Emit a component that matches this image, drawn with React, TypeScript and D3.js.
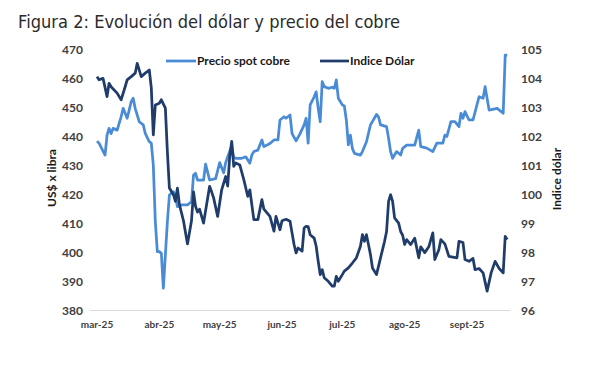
import React from 'react';
import * as d3 from 'd3';

const copperDates = [
  '2025-03-01', '2025-03-02', '2025-03-05', '2025-03-06', '2025-03-07', '2025-03-08', '2025-03-09', '2025-03-11',
  '2025-03-13', '2025-03-14', '2025-03-15', '2025-03-16', '2025-03-17', '2025-03-18', '2025-03-19', '2025-03-20',
  '2025-03-22', '2025-03-24', '2025-03-25', '2025-03-27', '2025-03-28', '2025-03-29', '2025-03-30', '2025-03-31',
  '2025-04-01', '2025-04-02', '2025-04-03', '2025-04-05', '2025-04-06', '2025-04-08', '2025-04-09', '2025-04-10',
  '2025-04-12', '2025-04-15', '2025-04-17', '2025-04-18', '2025-04-19', '2025-04-20', '2025-04-23', '2025-04-24',
  '2025-04-26', '2025-04-29', '2025-05-01', '2025-05-03', '2025-05-04', '2025-05-05', '2025-05-07', '2025-05-08',
  '2025-05-09', '2025-05-12', '2025-05-14', '2025-05-16', '2025-05-17', '2025-05-18', '2025-05-20', '2025-05-22',
  '2025-05-23', '2025-05-26', '2025-05-28', '2025-05-30', '2025-05-31', '2025-06-02', '2025-06-03', '2025-06-05',
  '2025-06-06', '2025-06-08', '2025-06-10', '2025-06-12', '2025-06-13', '2025-06-14', '2025-06-15', '2025-06-17',
  '2025-06-18', '2025-06-19', '2025-06-20', '2025-06-21', '2025-06-22', '2025-06-24', '2025-06-26', '2025-06-27',
  '2025-06-28', '2025-06-29', '2025-07-01', '2025-07-02', '2025-07-03', '2025-07-04', '2025-07-05', '2025-07-06',
  '2025-07-07', '2025-07-10', '2025-07-11', '2025-07-13', '2025-07-15', '2025-07-18', '2025-07-19', '2025-07-20',
  '2025-07-23', '2025-07-24', '2025-07-25', '2025-07-26', '2025-07-28', '2025-07-30', '2025-07-31', '2025-08-02',
  '2025-08-06', '2025-08-08', '2025-08-09', '2025-08-12', '2025-08-15', '2025-08-17', '2025-08-20', '2025-08-21',
  '2025-08-22', '2025-08-24', '2025-08-26', '2025-08-28', '2025-08-29', '2025-08-30', '2025-08-31', '2025-09-02',
  '2025-09-04', '2025-09-07', '2025-09-09', '2025-09-10', '2025-09-12', '2025-09-16', '2025-09-19', '2025-09-20',
  '2025-09-21',
];
const copperValues = [
  438.4, 437.7, 433.6, 440.5, 442.8, 441.0, 442.8, 442.2,
  446.8, 449.7, 448.0, 446.3, 449.1, 452.0, 453.2, 449.7,
  445.1, 444.0, 441.1, 438.2, 437.7, 430.2, 410.6, 400.3,
  400.3, 399.7, 387.7, 410.6, 419.8, 421.0, 419.8, 415.8,
  416.4, 416.4, 417.5, 426.7, 427.3, 425.0, 425.0, 430.5,
  425.0, 425.5, 431.0, 427.5, 431.0, 433.0, 436.7, 432.8,
  432.5, 432.5, 433.0, 430.8, 433.6, 434.8, 435.3, 438.8,
  436.5, 437.6, 438.8, 438.8, 445.7, 446.8, 446.3, 447.4,
  441.0, 438.5, 441.0, 444.0, 446.3, 437.7, 450.9, 453.7,
  455.4, 449.7, 445.1, 458.9, 457.2, 456.6, 457.0, 456.6,
  459.5, 453.2, 450.9, 450.5, 445.7, 437.1, 440.5, 435.9,
  434.2, 433.6, 434.8, 438.2, 444.0, 447.6, 446.8, 444.0,
  443.4, 439.4, 434.8, 432.5, 434.8, 433.6, 435.9, 437.0,
  437.0, 442.2, 436.5, 436.0, 434.8, 437.7, 437.7, 440.5,
  440.0, 445.1, 445.1, 443.4, 448.0, 446.3, 448.6, 445.7,
  445.7, 453.7, 453.2, 457.2, 449.1, 449.7, 448.0, 468.1,
  468.1,
];

const dollarDates = [
  '2025-03-01', '2025-03-02', '2025-03-04', '2025-03-06', '2025-03-07', '2025-03-08', '2025-03-11', '2025-03-13',
  '2025-03-15', '2025-03-16', '2025-03-18', '2025-03-20', '2025-03-21', '2025-03-23', '2025-03-25', '2025-03-27',
  '2025-03-28', '2025-03-29', '2025-03-30', '2025-04-01', '2025-04-02', '2025-04-04', '2025-04-05', '2025-04-06',
  '2025-04-08', '2025-04-09', '2025-04-10', '2025-04-11', '2025-04-13', '2025-04-15', '2025-04-17', '2025-04-18',
  '2025-04-19', '2025-04-20', '2025-04-21', '2025-04-23', '2025-04-26', '2025-04-27', '2025-04-28', '2025-04-30',
  '2025-05-02', '2025-05-04', '2025-05-05', '2025-05-06', '2025-05-07', '2025-05-08', '2025-05-09', '2025-05-11',
  '2025-05-13', '2025-05-15', '2025-05-16', '2025-05-18', '2025-05-20', '2025-05-22', '2025-05-23', '2025-05-26',
  '2025-05-28', '2025-05-29', '2025-05-31', '2025-06-01', '2025-06-03', '2025-06-05', '2025-06-06', '2025-06-07',
  '2025-06-08', '2025-06-09', '2025-06-11', '2025-06-12', '2025-06-13', '2025-06-14', '2025-06-15', '2025-06-17',
  '2025-06-18', '2025-06-19', '2025-06-20', '2025-06-21', '2025-06-22', '2025-06-24', '2025-06-26', '2025-06-27',
  '2025-06-28', '2025-06-29', '2025-07-01', '2025-07-02', '2025-07-04', '2025-07-06', '2025-07-08', '2025-07-10',
  '2025-07-11', '2025-07-12', '2025-07-13', '2025-07-14', '2025-07-15', '2025-07-16', '2025-07-18', '2025-07-20',
  '2025-07-22', '2025-07-23', '2025-07-24', '2025-07-25', '2025-07-26', '2025-07-27', '2025-07-29', '2025-07-30',
  '2025-07-31', '2025-08-01', '2025-08-02', '2025-08-04', '2025-08-06', '2025-08-08', '2025-08-09', '2025-08-11',
  '2025-08-13', '2025-08-15', '2025-08-16', '2025-08-18', '2025-08-19', '2025-08-21', '2025-08-23', '2025-08-27',
  '2025-08-28', '2025-08-30', '2025-08-31', '2025-09-02', '2025-09-04', '2025-09-05', '2025-09-07', '2025-09-09',
  '2025-09-11', '2025-09-13', '2025-09-15', '2025-09-17', '2025-09-19', '2025-09-20', '2025-09-21',
];
const dollarValues = [
  104.08, 103.97, 104.02, 103.39, 103.85, 103.73, 103.51, 103.28,
  103.73, 103.97, 104.08, 104.2, 104.54, 104.08, 104.2, 104.31,
  103.7, 102.07, 103.1, 103.16, 103.28, 102.99, 101.49, 100.23,
  100.0, 99.77, 100.23, 99.66, 99.1, 98.3, 99.1, 100.1,
  99.6, 99.4, 99.5, 99.02, 100.29, 100.1, 99.89, 99.25,
  100.17, 100.63, 100.3, 101.32, 101.84, 100.98, 101.1, 101.03,
  100.52, 99.94, 100.17, 99.14, 99.14, 99.83, 99.5, 99.25,
  98.74, 99.25, 98.79, 99.1, 99.15, 99.08, 98.68, 98.28,
  97.99, 98.16, 98.05, 98.85, 98.91, 98.9, 98.62, 98.5,
  98.22, 97.7, 97.24, 97.41, 97.13, 97.01, 96.84, 96.84,
  97.18, 97.01, 97.24, 97.36, 97.47, 97.64, 97.82, 98.22,
  98.62, 98.39, 98.62, 98.28, 97.93, 97.47, 97.24, 97.82,
  98.39, 98.73, 99.77, 100.0, 99.77, 99.2, 99.02, 98.73,
  98.6, 98.28, 98.45, 98.28, 98.5, 97.82, 98.2, 98.0,
  98.2, 98.68, 97.76, 98.1, 98.45, 98.3, 97.87, 97.82,
  98.39, 98.35, 97.76, 97.7, 97.8, 97.41, 97.45, 97.3,
  96.67, 97.3, 97.7, 97.45, 97.3, 98.56, 98.45,
];

const monthTicks = ['2025-03-01', '2025-04-01', '2025-05-01', '2025-06-01', '2025-07-01', '2025-08-01', '2025-09-01'];
const monthLabels = ['mar-25', 'abr-25', 'may-25', 'jun-25', 'jul-25', 'ago-25', 'sept-25'];
const leftTicks = [380, 390, 400, 410, 420, 430, 440, 450, 460, 470];
const rightTicks = [96, 97, 98, 99, 100, 101, 102, 103, 104, 105];

const copperColor = '#4a8bd6';
const dollarColor = '#1f3c6b';
const labelFont = 'Lato, "Open Sans", sans-serif';

export default function App() {
  const width = 600;
  const height = 369;
  const plot = { left: 90, right: 510, top: 49.5, bottom: 310.5 };

  const parse = d3.timeParse('%Y-%m-%d');
  const x = d3.scaleTime()
    .domain([parse('2025-03-01'), parse('2025-09-01')])
    .range([97, 467]);
  const yL = d3.scaleLinear().domain([380, 470]).range([plot.bottom, plot.top]);
  const yR = d3.scaleLinear().domain([96, 105]).range([plot.bottom, plot.top + 0.5]);

  const copper = copperDates.map((d, i) => ({ date: parse(d), v: copperValues[i] }));
  const dollar = dollarDates.map((d, i) => ({ date: parse(d), v: dollarValues[i] }));

  const copperLine = d3.line().x(d => x(d.date)).y(d => yL(d.v));
  const dollarLine = d3.line().x(d => x(d.date)).y(d => yR(d.v));

  return (
    <svg width={width} height={height} style={{ position: 'absolute', left: 0, top: 0, background: '#fff' }}>
      <text x={18} y={28} fontFamily='"DejaVu Sans", Verdana, sans-serif' fontSize={17.5} fill="#2b2b2b"
        textLength={382} lengthAdjust="spacingAndGlyphs">
        Figura 2: Evolución del dólar y precio del cobre
      </text>

      <line x1={plot.left} x2={plot.right} y1={plot.bottom} y2={plot.bottom} stroke="#d9d9d9" strokeWidth={1} />

      {leftTicks.map(t => (
        <text key={'l' + t} x={83} y={yL(t) + 4} textAnchor="end" fontFamily={labelFont} fontWeight="bold"
          fontSize={12} fill="#404040">{t}</text>
      ))}
      {rightTicks.map(t => (
        <text key={'r' + t} x={521} y={yR(t) + 4} textAnchor="start" fontFamily={labelFont} fontWeight="bold"
          fontSize={12} fill="#404040">{t}</text>
      ))}
      {monthTicks.map((m, i) => (
        <text key={m} x={x(parse(m))} y={328} textAnchor="middle" fontFamily={labelFont} fontWeight="bold"
          fontSize={10} fill="#404040">{monthLabels[i]}</text>
      ))}

      <text transform="translate(56,178) rotate(-90)" textAnchor="middle" fontFamily={labelFont} fontWeight="bold"
        fontSize={12} fill="#1a1a1a">US$ x libra</text>
      <text transform="translate(561,179) rotate(-90)" textAnchor="middle" fontFamily={labelFont} fontWeight="bold"
        fontSize={12} fill="#1a1a1a">Indice dólar</text>

      <path d={copperLine(copper)} fill="none" stroke={copperColor} strokeWidth={2.75} strokeLinejoin="round" />
      <path d={dollarLine(dollar)} fill="none" stroke={dollarColor} strokeWidth={2.75} strokeLinejoin="round" />

      <line x1={166} x2={196} y1={61} y2={61} stroke={copperColor} strokeWidth={2.75} />
      <text x={197} y={65} fontFamily={labelFont} fontWeight="bold" fontSize={12} fill="#1a1a1a">Precio spot cobre</text>
      <line x1={320} x2={349} y1={61} y2={61} stroke={dollarColor} strokeWidth={2.75} />
      <text x={350} y={65} fontFamily={labelFont} fontWeight="bold" fontSize={12} fill="#1a1a1a">Indice Dólar</text>
    </svg>
  );
}
